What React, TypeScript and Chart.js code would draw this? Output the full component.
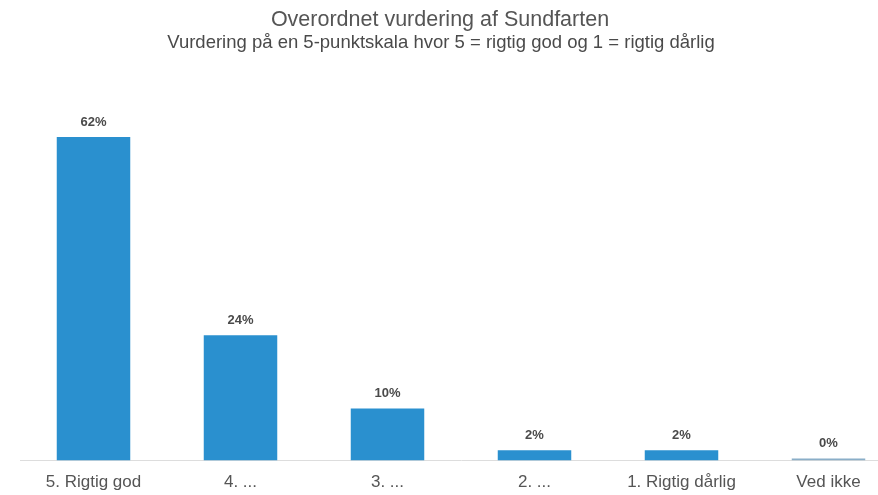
import React, { useEffect, useRef } from "react";
import { Chart, registerables } from "chart.js";

Chart.register(...registerables);

const categories = ["5. Rigtig god", "4. ...", "3. ...", "2. ...", "1. Rigtig dårlig", "Ved ikke"];
const values = [62, 24, 10, 2, 2, 0];
const valueLabels = ["62%", "24%", "10%", "2%", "2%", "0%"];
const titleText = "Overordnet vurdering af Sundfarten";
const subtitleText = "Vurdering på en 5-punktskala hvor 5 = rigtig god og 1 = rigtig dårlig";

const FONT = "'Liberation Sans', Arial, sans-serif";

const labelPlugin = {
  id: "valueLabels",
  afterDatasetsDraw(chart: any) {
    const ctx = chart.ctx;
    const meta = chart.getDatasetMeta(0);
    ctx.save();
    ctx.font = `bold 13px ${FONT}`;
    ctx.fillStyle = "#4a4a4a";
    ctx.textAlign = "center";
    ctx.textBaseline = "middle";
    meta.data.forEach((bar: any, i: number) => {
      ctx.fillText(valueLabels[i], bar.x, bar.y - 15);
    });
    ctx.restore();
  },
};

const titlePlugin = {
  id: "titles",
  afterDraw(chart: any) {
    const ctx = chart.ctx;
    ctx.save();
    ctx.textAlign = "center";
    ctx.textBaseline = "alphabetic";
    ctx.fillStyle = "#555555";
    ctx.font = `21.5px ${FONT}`;
    ctx.fillText(titleText, 440, 26);
    ctx.fillStyle = "#4a4a4a";
    ctx.font = `18.5px ${FONT}`;
    ctx.fillText(subtitleText, 441, 48);
    ctx.restore();
  },
};

export default function App() {
  const ref = useRef<HTMLCanvasElement | null>(null);
  useEffect(() => {
    if (!ref.current) return;
    const chart = new Chart(ref.current, {
      type: "bar",
      data: {
        labels: categories,
        datasets: [
          {
            data: values,
            backgroundColor: values.map((v) => (v === 0 ? "#8aaec8" : "#2a90cf")),
            barPercentage: 0.5,
            categoryPercentage: 1,
            minBarLength: 2,
          },
        ],
      },
      options: {
        animation: false,
        responsive: false,
        maintainAspectRatio: false,
        layout: { padding: { left: 20, right: 8, top: 88, bottom: 3 } },
        plugins: {
          legend: { display: false },
          tooltip: { enabled: false },
          title: { display: false },
        },
        scales: {
          x: {
            grid: { display: false },
            border: { display: true, color: "#dddddd" },
            ticks: { color: "#555555", font: { family: FONT, size: 17 }, padding: 4, maxRotation: 0 },
          },
          y: {
            display: false,
            min: 0,
            max: 71.4,
          },
        },
      },
      plugins: [labelPlugin, titlePlugin],
    });
    return () => chart.destroy();
  }, []);
  return (
    <div style={{ position: "fixed", left: 0, top: 0, width: 878, height: 495, overflow: "hidden", background: "#fff" }}>
      <canvas ref={ref} width={910} height={500} style={{ display: "block" }} />
    </div>
  );
}
